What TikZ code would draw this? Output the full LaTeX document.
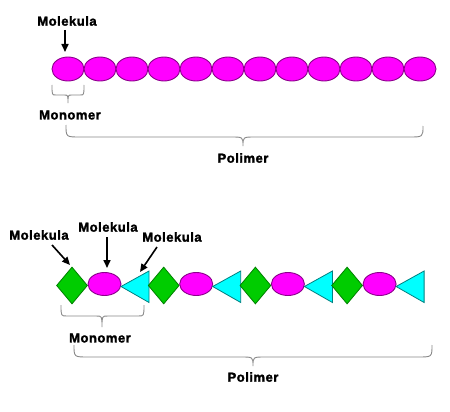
\documentclass[tikz,border=0pt]{standalone}
\usepackage{fontspec}
\setmainfont{Liberation Sans}
\newfontfamily\heavyfont[FakeBold=2,LetterSpace=4]{Liberation Sans Bold}
\usetikzlibrary{shapes.geometric,arrows.meta}
\definecolor{mag}{HTML}{FF00FF}
\definecolor{magborder}{HTML}{8B008B}
\definecolor{dgreen}{HTML}{00CC00}
\definecolor{dgreenborder}{HTML}{008000}
\definecolor{tcyan}{HTML}{00FFFF}
\definecolor{tcyanborder}{HTML}{008080}
\definecolor{bracegray}{HTML}{8A8A8A}
\begin{document}
\begin{tikzpicture}[x=1pt,y=-1pt,
  lab/.style={font=\heavyfont\fontsize{13}{15}\selectfont, inner sep=0},
  mol/.style={ellipse, draw=magborder, fill=mag, line width=0.9pt, minimum width=32pt, minimum height=24pt, inner sep=0},
  molb/.style={ellipse, draw=magborder, fill=mag, line width=0.9pt, minimum width=33pt, minimum height=23pt, inner sep=0},
  dia/.style={diamond, draw=dgreenborder, fill=dgreen, line width=0.8pt, minimum width=31pt, minimum height=37pt, inner sep=0},
  tri/.style={draw=tcyanborder, fill=tcyan, line width=0.8pt, line join=miter},
  bracestyle/.style={draw=bracegray, line width=0.9pt},
  arr/.style={-{Triangle[length=8pt,width=7pt]}, line width=1.6pt}]
\useasboundingbox[fill=white] (0,0) rectangle (450,412);

% ---------- top polymer ----------
\foreach \i in {0,...,11}
  \node[mol] (a\i) at ({68+32*\i},69) {};

\node[lab] (mk0) at (67,21) {Molekula};
\coordinate (m0s) at (65,30);
\draw[arr] (m0s) -- (65,52);

% small brace
\draw[bracestyle] (52,85) .. controls (52,95) .. (56,95) -- (64,95)
  .. controls (68,95) .. (68,103) .. controls (68,95) .. (72,95) -- (80,95)
  .. controls (84,95) .. (84,85);
\node[lab] (mono1) at (70,115) {Monomer};

% big brace
\draw[bracestyle] (66,125) .. controls (66,137) .. (80,137) -- (231,137)
  .. controls (243,137) .. (243,146) .. controls (243,137) .. (255,137) -- (409,137)
  .. controls (423,137) .. (423,126);
\node[lab] (poli1) at (243,158) {Polimer};

% ---------- bottom copolymer ----------
\foreach \k in {0,...,3} {
  \pgfmathsetmacro{\dx}{91.7*\k}
  \node[dia] (d\k) at ({72+\dx},285.5) {};
  \node[molb] (e\k) at ({104.5+\dx},284) {};
  \draw[tri] ({121+\dx},286.5) -- ({149+\dx},271) -- ({149+\dx},302.5) -- cycle;
  \coordinate (t\k) at ({135+\dx},286.5);
}

\node[lab] (mk1) at (39,235) {Molekula};
\node[lab] (mk2) at (108,227) {Molekula};
\node[lab] (mk3) at (172,237) {Molekula};
\coordinate (s1) at (52,245);
\coordinate (s2) at (107,237);
\coordinate (s3) at (157,247);
\draw[arr] (s1) -- (70,265);
\draw[arr] (s2) -- (107,268);
\draw[arr] (s3) -- (140,272);

% monomer brace
\draw[bracestyle] (61,305) .. controls (61,316) .. (67,316) -- (96,316)
  .. controls (102,316) .. (102,327) .. controls (102,316) .. (108,316) -- (138,316)
  .. controls (144,316) .. (144,305);
\node[lab] (mono2) at (100,338) {Monomer};

% polymer brace
\draw[bracestyle] (74,345) .. controls (74,357) .. (88,357) -- (241,357)
  .. controls (253,357) .. (253,366) .. controls (253,357) .. (265,357) -- (418,357)
  .. controls (432,357) .. (432,345);
\node[lab] (poli2) at (253,377) {Polimer};
\end{tikzpicture}
\end{document}
